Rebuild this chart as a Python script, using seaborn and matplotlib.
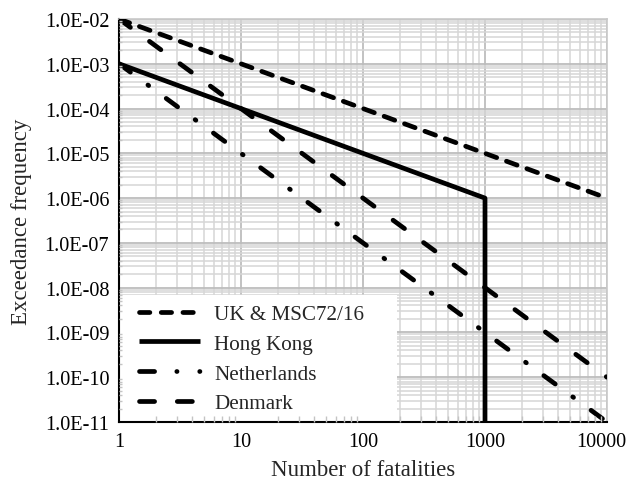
import matplotlib
matplotlib.use("Agg")
import matplotlib.pyplot as plt
import matplotlib.ticker as mticker
import matplotlib.transforms as mtransforms
from matplotlib.lines import Line2D
from matplotlib.patches import Rectangle
import seaborn as sns
import pandas as pd

# Data
uk_x = [1, 10000]
uk_y = [1e-2, 1e-6]
hk_x = [1, 1000, 1000]
hk_y = [1e-3, 1e-6, 1e-11]
nl_x = [1, 10000]
nl_y = [1e-3, 1e-11]
dk_x = [1, 10000]
dk_y = [1e-2, 1e-10]
x_ticks = [1, 10, 100, 1000, 10000]

series = [
    ("UK & MSC72/16", uk_x, uk_y),
    ("Hong Kong", hk_x, hk_y),
    ("Netherlands", nl_x, nl_y),
    ("Denmark", dk_x, dk_y),
]
rows = []
for name, xs, ys in series:
    for i, (a, b) in enumerate(zip(xs, ys)):
        rows.append({"series": name, "order": i, "x": a, "y": b})
df = pd.DataFrame(rows)

sns.set_theme(style="white")
plt.rcParams["font.family"] = ["Liberation Serif", "DejaVu Serif"]

fig = plt.figure(figsize=(6.27, 4.81), dpi=100)
pos = [119 / 627, 1 - 423 / 481, (607 - 119) / 627, (423 - 20) / 481]
ax = fig.add_axes(pos)

LW = 3.4
plot_dashes = {
    "UK & MSC72/16": (2.4, 2.2),
    "Hong Kong": (),
    "Netherlands": (3.0, 4.6, 0.2, 4.6),
    "Denmark": (3.0, 5.0),
}
legend_dashes = {
    "UK & MSC72/16": (2.2, 2.4),
    "Hong Kong": (),
    "Netherlands": (3.2, 4.7, 0.05, 4.8, 0.05, 6.0),
    "Denmark": (3.2, 4.8),
}

for name, _, _ in series:
    sub = df[df["series"] == name].sort_values("order")
    sns.lineplot(data=sub, x="x", y="y", ax=ax, sort=False, estimator=None,
                 color="black", linewidth=LW, legend=False, zorder=3)

for line, (name, _, _) in zip(ax.get_lines(), series):
    d = plot_dashes[name]
    if d:
        line.set_dashes(d)
    line.set_dash_capstyle("round")
    line.set_solid_capstyle("butt")

ax.set_xscale("log")
ax.set_yscale("log")
ax.set_xlim(1, 10000)
ax.set_ylim(1e-11, 1e-2)

ax.xaxis.set_major_locator(mticker.FixedLocator(x_ticks))
ax.xaxis.set_minor_locator(mticker.LogLocator(base=10, subs=range(2, 10), numticks=100))
ax.yaxis.set_major_locator(mticker.LogLocator(base=10, numticks=15))
ax.yaxis.set_minor_locator(mticker.LogLocator(base=10, subs=range(2, 10), numticks=100))
ax.xaxis.set_major_formatter(mticker.FuncFormatter(lambda v, p: f"{v:.0f}"))
ax.yaxis.set_major_formatter(mticker.FuncFormatter(lambda v, p: f"{v:.1E}"))
ax.xaxis.set_minor_formatter(mticker.NullFormatter())
ax.yaxis.set_minor_formatter(mticker.NullFormatter())

ax.grid(which="major", color="#bdbdbd", linewidth=1.3)
ax.grid(which="minor", color="#d6d6d6", linewidth=1.1)
ax.set_axisbelow(True)

for s in ["left", "bottom"]:
    ax.spines[s].set_color("black")
    ax.spines[s].set_linewidth(1.5)
for s in ["top", "right"]:
    ax.spines[s].set_color("#c8c8c8")
    ax.spines[s].set_linewidth(1.2)

ax.tick_params(axis="both", which="major", labelsize=14.6, colors="black", length=0)
ax.tick_params(axis="x", which="major", pad=7)
ax.tick_params(axis="y", which="major", pad=7)
ax.tick_params(axis="both", which="minor", length=0)

# shift last x tick label left so it fits
fig.canvas.draw()
xlabels = ax.get_xticklabels()
shift = mtransforms.ScaledTranslation(-6 / 100, 0, fig.dpi_scale_trans)
xlabels[-1].set_transform(xlabels[-1].get_transform() + shift)

ax.set_xlabel("Number of fatalities", fontsize=16.5, labelpad=6)
ax.set_ylabel("Exceedance frequency", fontsize=16.5, labelpad=9)

# white legend panel (lower left)
ax.add_patch(Rectangle((0, 0), (397 - 119) / 488, (423 - 296) / 403,
                       transform=ax.transAxes, facecolor="white",
                       edgecolor="none", zorder=1.5))

# overlay axes for the light inward minor ticks shown on top of the legend panel
ax2 = fig.add_axes(pos, frameon=False, sharex=ax, sharey=ax)
ax2.grid(False)
ax2.tick_params(axis="both", which="major", length=0, labelbottom=False, labelleft=False)
ax2.tick_params(axis="x", which="minor", direction="in", length=4.5, width=1.0,
                color="#c4c4c4", bottom=True)
ax2.tick_params(axis="y", which="minor", direction="in", length=2.5, width=1.0,
                color="#c4c4c4", left=True)
ax2.set_xlabel("")
ax2.set_ylabel("")

handles = []
for name, _, _ in series:
    h = Line2D([0], [0], color="black", linewidth=LW, dash_capstyle="round",
               solid_capstyle="butt")
    d = legend_dashes[name]
    if d:
        h.set_dashes(d)
    handles.append(h)

leg = ax2.legend(handles, [s[0] for s in series], loc="lower left",
                 bbox_to_anchor=((139.4 - 119) / 488, 0.0218),
                 fontsize=15.2, frameon=False, borderaxespad=0.0, borderpad=0.0,
                 handlelength=2.89, labelspacing=0.47, handletextpad=0.65)

fig.savefig("out.png", dpi=100)
